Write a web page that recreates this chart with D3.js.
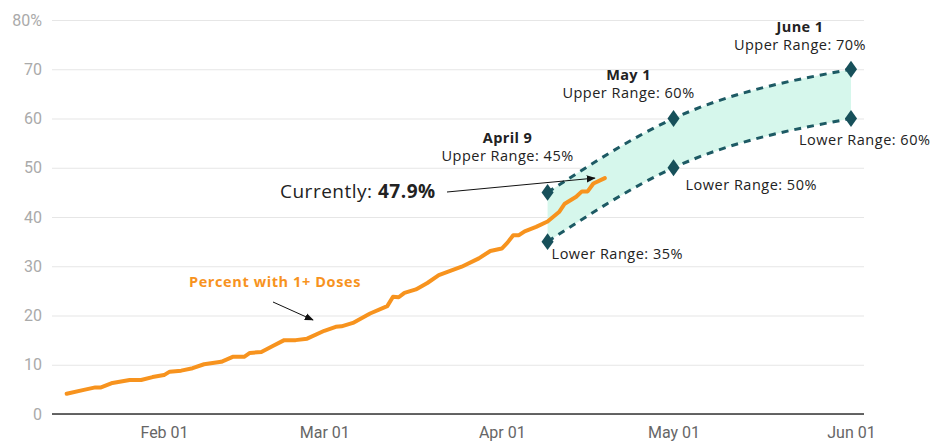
<!DOCTYPE html>
<html>
<head>
<meta charset="utf-8">
<script src="https://cdn.jsdelivr.net/npm/d3@7"></script>
<style>
  body { margin: 0; background: #fff; }
  .tick text { font-family: Roboto, sans-serif; }
  .ann { font-family: "Open Sans", sans-serif; fill: #222; }
</style>
</head>
<body>
<div id="wrapper"></div>
<script>
'use strict';

// observed share with 1+ doses (date, percent)
const doseDates = ['2021-01-15','2021-01-18','2021-01-20','2021-01-21','2021-01-23','2021-01-26','2021-01-28',
  '2021-01-30','2021-02-01','2021-02-02','2021-02-04','2021-02-06','2021-02-08','2021-02-11','2021-02-13',
  '2021-02-15','2021-02-16','2021-02-18','2021-02-20','2021-02-22','2021-02-24','2021-02-26','2021-03-01',
  '2021-03-03','2021-03-04','2021-03-06','2021-03-09','2021-03-12','2021-03-13','2021-03-14','2021-03-15',
  '2021-03-17','2021-03-19','2021-03-21','2021-03-25','2021-03-28','2021-03-30','2021-04-01','2021-04-02',
  '2021-04-03','2021-04-04','2021-04-05','2021-04-07','2021-04-09','2021-04-11','2021-04-12','2021-04-14',
  '2021-04-15','2021-04-16','2021-04-17','2021-04-19'];
const doseValues = [4.1, 4.9, 5.4, 5.4, 6.3, 6.9, 6.9,
  7.5, 7.9, 8.6, 8.8, 9.3, 10.1, 10.6, 11.6,
  11.6, 12.4, 12.6, 13.8, 15.0, 15.0, 15.3, 16.9,
  17.7, 17.8, 18.5, 20.4, 21.9, 23.8, 23.7, 24.6,
  25.3, 26.6, 28.2, 29.9, 31.6, 33.1, 33.6, 34.8,
  36.3, 36.3, 37.1, 38.0, 39.1, 41.0, 42.7, 44.1,
  45.2, 45.2, 46.8, 47.9];

// projection range
const rangeDates = ['2021-04-09', '2021-05-01', '2021-06-01'];
const rangeTitles = ['April 9', 'May 1', 'June 1'];
const upperRange = [45, 60, 70];
const lowerRange = [35, 50, 60];

const yTicks = [0, 10, 20, 30, 40, 50, 60, 70, 80];
const xTicks = ['2021-02-01', '2021-03-01', '2021-04-01', '2021-05-01', '2021-06-01'];
const currentValue = 47.9;

function drawChart () {
  const parse = d3.utcParse('%Y-%m-%d');
  const doses = doseDates.map((d, i) => ({date: parse(d), value: doseValues[i]}));
  const band = rangeDates.map((d, i) => ({date: parse(d), hi: upperRange[i], lo: lowerRange[i], title: rangeTitles[i]}));

  const dimensions = {width: 939, height: 442, left: 52, right: 864, top: 20, bottom: 414};

  const svg = d3.select('#wrapper').append('svg')
    .attr('width', dimensions.width)
    .attr('height', dimensions.height);

  const defs = svg.append('defs');
  defs.append('marker')
    .attr('id', 'arrow')
    .attr('viewBox', '0 0 10 10')
    .attr('refX', 9).attr('refY', 5)
    .attr('markerWidth', 9).attr('markerHeight', 9)
    .attr('markerUnits', 'userSpaceOnUse')
    .attr('orient', 'auto')
    .append('path').attr('d', 'M0,1 L10,5 L0,9 Z').attr('fill', '#111');

  const xScale = d3.scaleUtc()
    .domain([parse('2021-02-01'), parse('2021-06-01')])
    .range([164, 851]);
  const yScale = d3.scaleLinear()
    .domain([0, 80])
    .range([dimensions.bottom, dimensions.top]);

  // gridlines + y labels
  const yAxis = svg.append('g')
    .attr('transform', `translate(${dimensions.left},0)`)
    .call(d3.axisLeft(yScale)
      .tickValues(yTicks)
      .tickSize(-(dimensions.right - dimensions.left))
      .tickPadding(10)
      .tickFormat(d => d === 80 ? '80%' : d));
  yAxis.select('.domain').remove();
  yAxis.selectAll('.tick line').attr('stroke', '#e6e6e6').attr('stroke-width', 1.2);
  yAxis.selectAll('.tick text').attr('fill', '#aaa').attr('font-size', 16);

  // x axis
  const xAxis = svg.append('g')
    .attr('transform', `translate(0,${dimensions.bottom})`)
    .call(d3.axisBottom(xScale)
      .tickValues(xTicks.map(parse))
      .tickSize(0)
      .tickPadding(13)
      .tickFormat(d3.utcFormat('%b %d')));
  xAxis.select('.domain').remove();
  xAxis.selectAll('.tick text').attr('fill', '#666').attr('font-size', 16);
  svg.append('line')
    .attr('x1', dimensions.left).attr('x2', dimensions.right)
    .attr('y1', yScale(0)).attr('y2', yScale(0))
    .attr('stroke', '#333').attr('stroke-width', 1.3);

  // projection band
  const area = d3.area()
    .x(d => xScale(d.date))
    .y0(d => yScale(d.lo))
    .y1(d => yScale(d.hi))
    .curve(d3.curveMonotoneX);
  svg.append('path').datum(band)
    .attr('d', area)
    .attr('fill', '#d6f7ec');

  ['hi', 'lo'].forEach(key => {
    svg.append('path').datum(band)
      .attr('d', d3.line().x(d => xScale(d.date)).y(d => yScale(d[key])).curve(d3.curveMonotoneX))
      .attr('fill', 'none')
      .attr('stroke', '#1d5a64')
      .attr('stroke-width', 3)
      .attr('stroke-dasharray', '7,6');
  });

  // observed line
  svg.append('path').datum(doses)
    .attr('d', d3.line().x(d => xScale(d.date)).y(d => yScale(d.value)))
    .attr('fill', 'none')
    .attr('stroke', '#f7931e')
    .attr('stroke-width', 4)
    .attr('stroke-linejoin', 'round')
    .attr('stroke-linecap', 'round');

  // diamonds
  const diamond = d3.symbol().type(d3.symbolSquare).size(90);
  band.forEach(d => {
    [d.hi, d.lo].forEach(v => {
      svg.append('path')
        .attr('d', diamond)
        .attr('transform', `translate(${xScale(d.date)},${yScale(v)}) scale(0.9,1.25) rotate(45)`)
        .attr('fill', '#17505a');
    });
  });

  // annotations
  const upperLabelPos = [{dx: -40, y: 138}, {dx: -45, y: 75}, {dx: -51, y: 27}];
  band.forEach((d, i) => {
    const cx = xScale(d.date) + upperLabelPos[i].dx;
    svg.append('text').attr('class', 'ann')
      .attr('x', cx).attr('y', upperLabelPos[i].y + 5)
      .attr('text-anchor', 'middle')
      .attr('font-size', 14.5).attr('font-weight', 700)
      .attr('letter-spacing', 0.4)
      .text(d.title);
    svg.append('text').attr('class', 'ann')
      .attr('x', cx).attr('y', upperLabelPos[i].y + 23)
      .attr('text-anchor', 'middle')
      .attr('font-size', 14.5)
      .attr('letter-spacing', 0.5)
      .text(`Upper Range: ${d.hi}%`);
  });
  const lowerLabelPos = [{dx: 4, dy: 17}, {dx: 12, dy: 22}, {dx: -52, dy: 26}];
  band.forEach((d, i) => {
    svg.append('text').attr('class', 'ann')
      .attr('x', xScale(d.date) + lowerLabelPos[i].dx)
      .attr('y', yScale(d.lo) + lowerLabelPos[i].dy)
      .attr('font-size', 14.5)
      .attr('letter-spacing', 0.5)
      .text(`Lower Range: ${d.lo}%`);
  });

  const last = doses[doses.length - 1];
  const cur = svg.append('text').attr('class', 'ann')
    .attr('x', 280).attr('y', 198)
    .attr('font-size', 19)
    .attr('letter-spacing', 0.5);
  cur.append('tspan').text('Currently: ');
  cur.append('tspan').attr('font-weight', 700).text(`${currentValue}%`);
  svg.append('line')
    .attr('x1', 447).attr('y1', 192)
    .attr('x2', xScale(last.date) - 10).attr('y2', yScale(last.value))
    .attr('stroke', '#111').attr('stroke-width', 1)
    .attr('marker-end', 'url(#arrow)');

  svg.append('text').attr('class', 'ann')
    .attr('x', 189).attr('y', 287)
    .attr('font-size', 14.5).attr('font-weight', 700)
    .attr('letter-spacing', 0.6)
    .style('fill', '#f7931e')
    .text('Percent with 1+ Doses');
  svg.append('line')
    .attr('x1', 273).attr('y1', 302)
    .attr('x2', 313).attr('y2', 320)
    .attr('stroke', '#111').attr('stroke-width', 1)
    .attr('marker-end', 'url(#arrow)');
}
drawChart();
</script>
</body>
</html>
